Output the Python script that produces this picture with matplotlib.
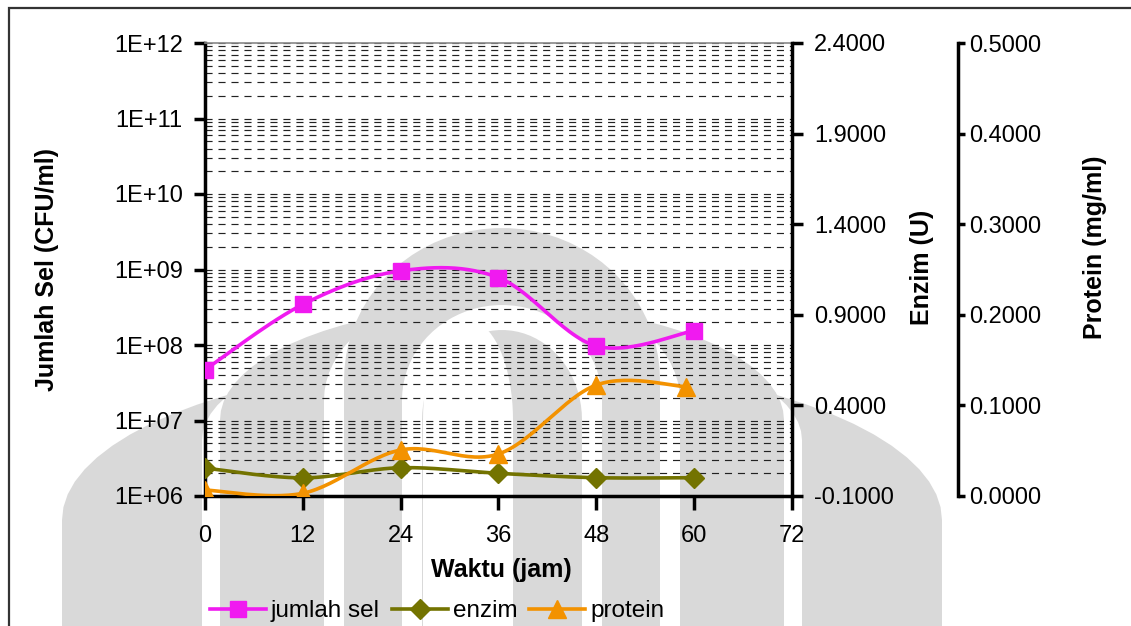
import numpy as np
import matplotlib.pyplot as plt
from matplotlib.lines import Line2D
from matplotlib.patches import Polygon, Rectangle
from matplotlib.ticker import FixedLocator, LogLocator, NullFormatter, FormatStrFormatter

plt.rcParams['font.family'] = ['Liberation Sans', 'DejaVu Sans']

# data
waktu = [0, 12, 24, 36, 48, 60]
waktu_protein = [0, 12, 24, 36, 48, 59]
jumlah_sel = [4.7e7, 3.45e8, 9.6e8, 7.8e8, 9.7e7, 1.55e8]
enzim = [0.054, 0.0, 0.056, 0.025, 0.001, 0.001]
protein = [0.0066, 0.003, 0.0508, 0.0464, 0.1225, 0.1207]

c_sel = '#F01AF0'
c_enz = '#737300'
c_pro = '#F39200'

W, H = 1131, 626


def smooth(x, y, n=30):
    # excel-like smoothed line (bezier through the points)
    p = np.column_stack([x, y]).astype(float)
    p = np.vstack([p[0], p, p[-1]])
    segs = []
    t = np.linspace(0, 1, n)[:, None]
    for i in range(1, len(p) - 2):
        p0, p1, p2, p3 = p[i - 1], p[i], p[i + 1], p[i + 2]
        c1 = p1 + (p2 - p0) / 6
        c2 = p2 - (p3 - p1) / 6
        segs.append((1 - t)**3 * p1 + 3 * (1 - t)**2 * t * c1 + 3 * (1 - t) * t**2 * c2 + t**3 * p2)
    s = np.vstack(segs)
    return s[:, 0], s[:, 1]


def arch(cx, half, shoulder, top, bottom=640, n=40):
    # rounded arch in image pixels
    a = np.linspace(np.pi, 0, n)
    xs = cx + half * np.cos(a)
    ys = shoulder - (shoulder - top) * np.sin(a)
    pts = [(cx - half, bottom)] + list(zip(xs, ys)) + [(cx + half, bottom)]
    return [(px / W, 1 - py / H) for px, py in pts]


fig = plt.figure(figsize=(W / 100, H / 100), dpi=100)

# faint watermark behind the chart
g = '#d9d9d9'
wm = [
    (arch(502, 440, 520, 360), g),
    (arch(502, 300, 440, 330), 'white'),
    (arch(502, 282, 420, 305), g),
    (arch(502, 178, 400, 285), 'white'),
    (arch(502, 158, 380, 228), g),
    (arch(502, 100, 400, 305), 'white'),
    (arch(502, 80, 420, 330), g),
    (arch(468, 45, 420, 320), 'white'),
]
for pts, col in wm:
    fig.patches.append(Polygon(pts, closed=True, transform=fig.transFigure,
                               facecolor=col, edgecolor='none', zorder=-5))

# outer frame
fig.patches.append(Rectangle((9 / W, -0.05), 1.05, 1 - 8 / H + 0.05, transform=fig.transFigure,
                             fill=False, edgecolor='#333333', linewidth=1.6, zorder=10))

ax = fig.add_axes([205 / W, 1 - 496 / H, 587 / W, 453 / H])
ax.patch.set_alpha(0)
ax2 = ax.twinx()
ax3 = ax.twinx()

# left axis (log)
ax.set_yscale('log')
ax.set_ylim(1e6, 1e12)
ax.set_xlim(0, 72)
ax.set_xticks([0, 12, 24, 36, 48, 60, 72])
ax.yaxis.set_major_locator(FixedLocator([10.0**k for k in range(6, 13)]))
ax.yaxis.set_minor_locator(LogLocator(base=10, subs=np.arange(2, 10)))
ax.yaxis.set_minor_formatter(NullFormatter())
ax.set_yticklabels(['1E+%02d' % k for k in range(6, 13)])
ax.grid(True, which='both', axis='y', color='#222222', linewidth=0.85, linestyle=(0, (6, 5)))
ax.tick_params(axis='y', which='minor', length=0)
ax.tick_params(axis='y', which='major', direction='out', length=8, width=2.5, labelsize=17, pad=8)
ax.tick_params(axis='x', direction='out', length=10, width=2.5, labelsize=17, pad=11)
ax.spines['left'].set_linewidth(2.5)
ax.spines['bottom'].set_linewidth(2.5)
ax.spines['top'].set_color('#888888')
ax.spines['top'].set_linewidth(1.2)
ax.spines['right'].set_visible(False)

# enzim axis
ax2.set_ylim(-0.1, 2.4)
ax2.set_yticks([-0.1, 0.4, 0.9, 1.4, 1.9, 2.4])
ax2.yaxis.set_major_formatter(FormatStrFormatter('%.4f'))
ax2.tick_params(axis='y', direction='out', length=8, width=2.5, labelsize=17, pad=8)
for s in ['left', 'top', 'bottom']:
    ax2.spines[s].set_visible(False)
ax2.spines['right'].set_linewidth(2.5)

# protein axis
ax3.set_ylim(0, 0.5)
ax3.set_yticks([0, 0.1, 0.2, 0.3, 0.4, 0.5])
ax3.yaxis.set_major_formatter(FormatStrFormatter('%.4f'))
ax3.spines['right'].set_position(('axes', (958 - 205) / 587))
ax3.spines['right'].set_linewidth(2.5)
for s in ['left', 'top', 'bottom']:
    ax3.spines[s].set_visible(False)
ax3.tick_params(axis='y', direction='out', length=5, width=2.5, labelsize=17, pad=3)

# series
lw = 2.6
sx, sy = smooth(waktu, np.log10(jumlah_sel))
ax.plot(sx, 10**sy, color=c_sel, linewidth=lw, zorder=3)
ax.plot(waktu, jumlah_sel, linestyle='none', marker='s', markersize=11, color=c_sel, zorder=4)

ex, ey = smooth(waktu, enzim)
ax2.plot(ex, ey, color=c_enz, linewidth=lw, zorder=3)
ax2.plot(waktu, enzim, linestyle='none', marker='D', markersize=10, color=c_enz, zorder=4)

px_, py_ = smooth(waktu_protein, protein)
ax3.plot(px_, py_, color=c_pro, linewidth=lw, zorder=3)
ax3.plot(waktu_protein, protein, linestyle='none', marker='^', markersize=13, color=c_pro, zorder=4)

# axis titles
fig.text(47 / W, 1 - 270 / H, 'Jumlah Sel (CFU/ml)', rotation=90, ha='center', va='center',
         fontsize=18, fontweight='bold')
fig.text(922 / W, 1 - 267 / H, 'Enzim (U)', rotation=90, ha='center', va='center',
         fontsize=18, fontweight='bold')
fig.text(1095 / W, 1 - 247 / H, 'Protein (mg/ml)', rotation=90, ha='center', va='center',
         fontsize=18, fontweight='bold')
fig.text(501 / W, 1 - 570 / H, 'Waktu (jam)', ha='center', va='center',
         fontsize=18, fontweight='bold')

handles = [
    Line2D([], [], color=c_sel, linewidth=lw, marker='s', markersize=11),
    Line2D([], [], color=c_enz, linewidth=lw, marker='D', markersize=10),
    Line2D([], [], color=c_pro, linewidth=lw, marker='^', markersize=13),
]
fig.legend(handles, ['jumlah sel', 'enzim', 'protein'], loc='center',
           bbox_to_anchor=(437 / W, 1 - 611 / H), ncol=3, frameon=False, fontsize=17.5,
           handlelength=2.3, handletextpad=0.2, columnspacing=0.5, borderpad=0)

fig.savefig('out.png', dpi=100)
